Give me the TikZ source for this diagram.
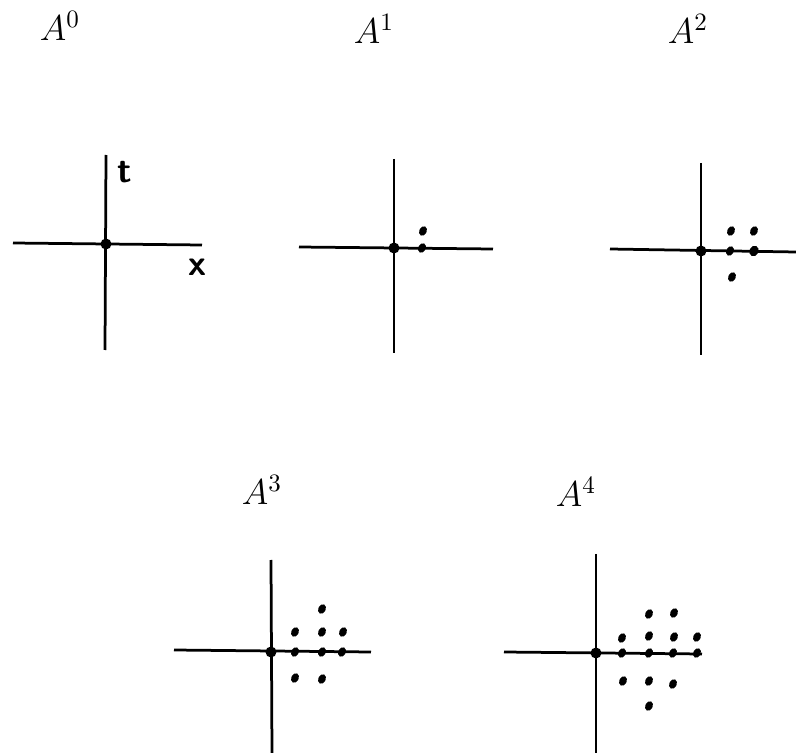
\documentclass[tikz,border=0pt]{standalone}
\usetikzlibrary{shapes.geometric}
\begin{document}
\begin{tikzpicture}[x=0.4pt,y=-0.4pt,
  axis/.style={line width=1.1pt},
  dot/.style={shape=ellipse,fill=black,inner sep=0pt,minimum width=3pt,minimum height=4pt,rotate=-25},
  orig/.style={circle,fill=black,inner sep=0pt,minimum size=4.4pt},
  lbl/.style={inner sep=0pt,font=\Large},
  hand/.style={inner sep=0pt,font=\sffamily\bfseries\Large}]
\useasboundingbox (0,0) rectangle (796,753);
% ---- A^0
\node[lbl] (L0) at (60,26) {$A^0$};
\coordinate (v0a) at (106,155); \coordinate (v0b) at (105,350);
\coordinate (h0a) at (13,243); \coordinate (h0b) at (202,245);
\draw[axis] (v0a) -- (v0b); \draw[axis] (h0a) -- (h0b);
\node[orig] (o0) at (106,244) {};
\node[hand] (t0) at (125,172) {t};
\node[hand] (x0) at (198,267) {x};
% ---- A^1
\node[lbl] (L1) at (374,29) {$A^1$};
\coordinate (v1a) at (394,159); \coordinate (v1b) at (394,353);
\coordinate (h1a) at (299,247); \coordinate (h1b) at (493,249);
\draw[axis] (v1a) -- (v1b); \draw[axis] (h1a) -- (h1b);
\node[orig] (o1) at (394,248) {};
\node[dot] (p1a) at (422,248) {};
\node[dot] (p1b) at (423,231) {};
% ---- A^2
\node[lbl] (L2) at (688,29) {$A^2$};
\coordinate (v2a) at (701,163); \coordinate (v2b) at (701,355);
\coordinate (h2a) at (610,249); \coordinate (h2b) at (796,252);
\draw[axis] (v2a) -- (v2b); \draw[axis] (h2a) -- (h2b);
\node[orig] (o2) at (701,251) {};
\node[dot] (p2a) at (730,251) {};
\node[dot,minimum width=3.6pt,minimum height=4.4pt] (p2b) at (754,251) {};
\node[dot] (p2c) at (731,231) {};
\node[dot] (p2d) at (754,231) {};
\node[dot] (p2e) at (732,277) {};
% ---- A^3
\node[lbl] (L3) at (262,490) {$A^3$};
\coordinate (v3a) at (271,560); \coordinate (v3b) at (272,753);
\coordinate (h3a) at (174,650); \coordinate (h3b) at (371,652);
\draw[axis] (v3a) -- (v3b); \draw[axis] (h3a) -- (h3b);
\node[orig] (o3) at (271,652) {};
\node[dot] (p3a) at (295,652) {};
\node[dot] (p3b) at (322,652) {};
\node[dot] (p3c) at (342,652) {};
\node[dot] (p3d) at (295,632) {};
\node[dot] (p3e) at (322,632) {};
\node[dot] (p3f) at (343,632) {};
\node[dot] (p3g) at (322,609) {};
\node[dot] (p3h) at (295,678) {};
\node[dot] (p3i) at (322,679) {};
% ---- A^4
\node[lbl] (L4) at (576,492) {$A^4$};
\coordinate (v4a) at (596,554); \coordinate (v4b) at (596,753);
\coordinate (h4a) at (504,652); \coordinate (h4b) at (702,654);
\draw[axis] (v4a) -- (v4b); \draw[axis] (h4a) -- (h4b);
\node[orig] (o4) at (596,653) {};
\node[dot] (p4a) at (622,653) {};
\node[dot] (p4b) at (649,653) {};
\node[dot] (p4c) at (673,653) {};
\node[dot] (p4d) at (697,653) {};
\node[dot] (p4e) at (622,638) {};
\node[dot] (p4f) at (649,636) {};
\node[dot] (p4g) at (674,637) {};
\node[dot] (p4h) at (697,637) {};
\node[dot] (p4i) at (649,614) {};
\node[dot] (p4j) at (674,613) {};
\node[dot] (p4k) at (623,681) {};
\node[dot] (p4l) at (649,681) {};
\node[dot] (p4m) at (673,684) {};
\node[dot] (p4n) at (649,706) {};
\end{tikzpicture}
\end{document}
